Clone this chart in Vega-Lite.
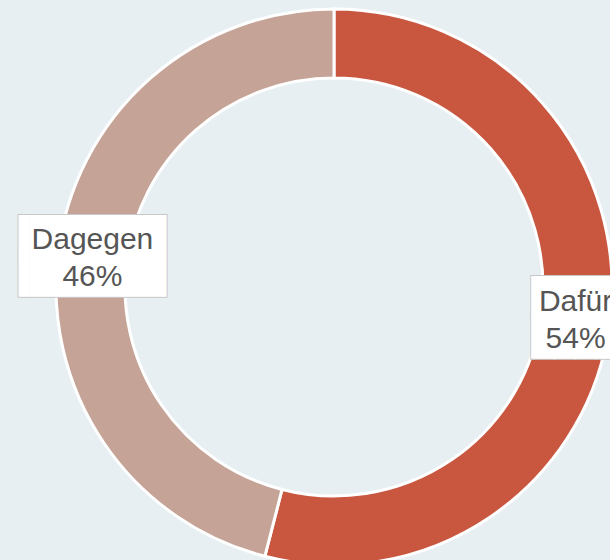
{
  "$schema": "https://vega.github.io/schema/vega-lite/v6.json",
  "width": 552,
  "height": 546,
  "autosize": {"type": "none"},
  "padding": {"left": 58, "top": 14, "right": 0, "bottom": 0},
  "background": "#e7eff2",
  "config": {"view": {"stroke": null}},
  "data": {
    "values": [
      {"antwort": "Dafür", "anteil": 54, "label": "Dafür\n54%"},
      {"antwort": "Dagegen", "anteil": 46, "label": "Dagegen\n46%"}
    ]
  },
  "encoding": {
    "theta": {"field": "anteil", "type": "quantitative", "stack": true},
    "order": {"field": "antwort", "type": "ordinal", "sort": "ascending"}
  },
  "layer": [
    {
      "mark": {"type": "arc", "outerRadius": 278, "innerRadius": 209, "stroke": "white", "strokeWidth": 3},
      "encoding": {
        "color": {
          "field": "antwort",
          "type": "nominal",
          "scale": {"domain": ["Dafür", "Dagegen"], "range": ["#c9563f", "#c5a397"]},
          "legend": null
        }
      }
    },
    {
      "mark": {"type": "text", "radius": 243.5, "font": "DejaVu Sans Mono", "fontSize": 35, "lineHeight": 40.5, "lineBreak": "\n", "align": "center", "baseline": "middle", "dy": -19.5, "fill": "white", "stroke": "#c8c8c8", "strokeWidth": 2},
      "encoding": {
        "text": {"condition": {"test": "datum.antwort === 'Dagegen'", "value": "▐██████▌\n▐██████▌"}, "value": "▕████▏\n▕████▏"}
      }
    },
    {
      "mark": {"type": "text", "radius": 243.5, "font": "DejaVu Sans Mono", "fontSize": 35, "lineHeight": 40.5, "lineBreak": "\n", "align": "center", "baseline": "middle", "dy": -19.5, "fill": "white"},
      "encoding": {
        "text": {"condition": {"test": "datum.antwort === 'Dagegen'", "value": "▐██████▌\n▐██████▌"}, "value": "▕████▏\n▕████▏"}
      }
    },
    {
      "mark": {"type": "text", "radius": 243.5, "font": "Liberation Sans", "fontSize": 30, "lineHeight": 37, "lineBreak": "\n", "align": "center", "baseline": "middle", "dy": -16, "fill": "#555555"},
      "encoding": {"text": {"field": "label", "type": "nominal"}}
    }
  ]
}
